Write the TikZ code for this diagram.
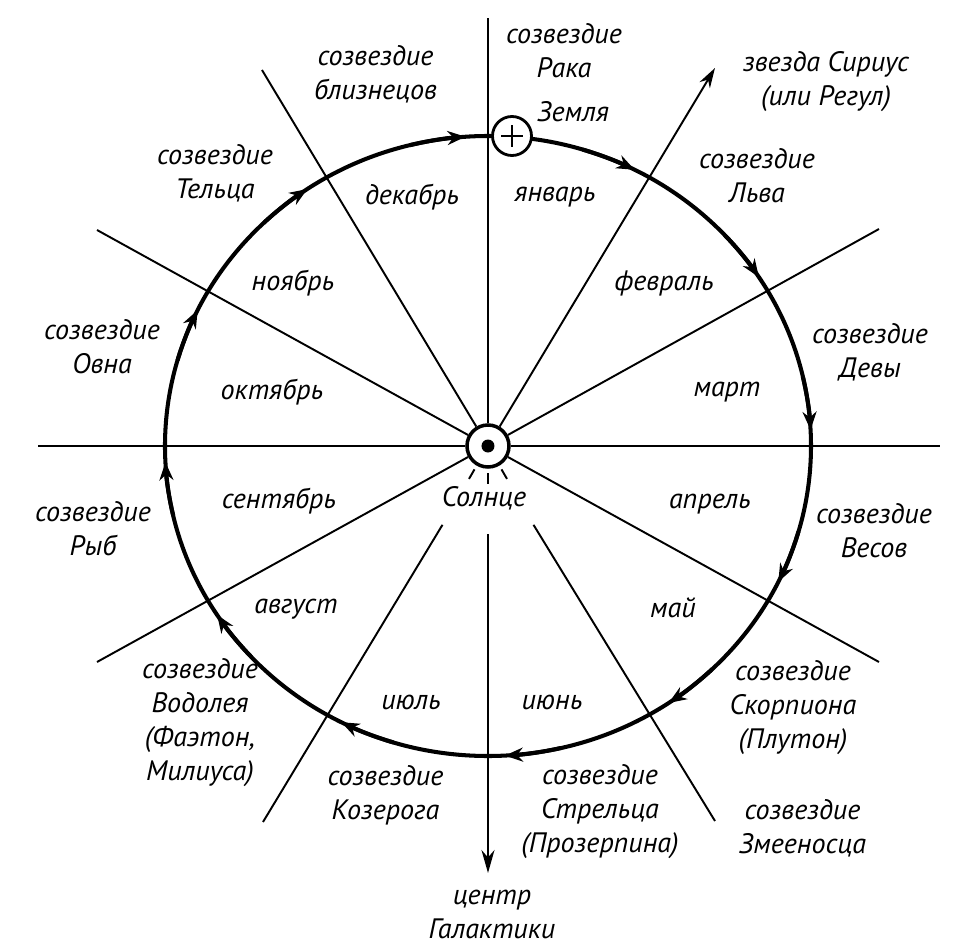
\documentclass[tikz,border=0pt]{standalone}
\usepackage{fontspec}
\setmainfont{PT Sans}
\usetikzlibrary{arrows.meta}

\begin{document}
\begin{tikzpicture}[
  lbl/.style={font=\fontsize{16}{19.4}\selectfont\itshape, align=center, inner sep=0pt},
  ray/.style={line width=1.1pt},
  orbit/.style={line width=2.3pt},
  orbitarrow/.style={-{Stealth[length=3.6mm, width=2.8mm]}},
  body/.style={circle, draw, fill=white, inner sep=0pt},
]
\useasboundingbox (-9.76,-10.04) rectangle (9.72,8.92);

% sun in the middle
\node[body, minimum size=0.84cm, line width=2pt] (sun) at (0,0) {};
\fill (sun.center) circle (0.13);
\foreach \a in {240,270,300}
  \draw[ray] (\a:0.54) -- (\a:0.76);

% ends of the rays
\coordinate (e0)   at (9.04, 0);
\coordinate (e30)  at (7.82, 4.34);
\coordinate (e60)  at (4.54, 7.56);
\coordinate (e90)  at (0, 8.56);
\coordinate (e120) at (-4.52, 7.52);
\coordinate (e150) at (-7.82, 4.32);
\coordinate (e180) at (-9.0, 0);
\coordinate (e210) at (-7.82, -4.32);
\coordinate (e240) at (-4.5, -7.52);
\coordinate (e270) at (0, -8.54);
\coordinate (e300) at (4.54, -7.5);
\coordinate (e330) at (7.82, -4.32);
\coordinate (s240) at (240:1.82);
\coordinate (s270) at (0, -1.76);
\coordinate (s300) at (300:1.82);

\foreach \e in {0,30,90,120,150,180,210,330}
  \draw[ray] (sun) -- (e\e);
\draw[ray] (s240) -- (e240);
\draw[ray] (s300) -- (e300);
\draw[ray, -{Stealth[length=4mm, width=2.4mm]}] (sun) -- (e60);
\draw[ray, -{Stealth[length=4.6mm, width=2.6mm]}] (s270) -- (e270);

% orbit of the Earth, clockwise
\draw[orbit] (sun.center) ellipse [x radius=6.46, y radius=6.2];
\foreach \a [evaluate=\a as \b using \a+10] in {94,63,33,3,-26,-56,-87,-117,-147,-177,154,124}
  \draw[orbit, orbitarrow] ({6.46*cos(\b)}, {6.2*sin(\b)})
    arc [start angle=\b, end angle=\a, x radius=6.46, y radius=6.2];

\node[body, minimum size=0.78cm, line width=1.6pt] (earth) at (0.48, 6.2) {};
\draw[line width=1.4pt, shorten <=0.2cm, shorten >=0.2cm] (earth.west) -- (earth.east);
\draw[line width=1.4pt, shorten <=0.2cm, shorten >=0.2cm] (earth.north) -- (earth.south);

% constellations
\node[lbl] (rak)      at (1.52, 7.9)   {созвездие\\Рака};
\node[lbl] (zemlya)   at (1.70, 6.68)  {Земля};
\node[lbl] (sirius)   at (6.76, 7.29)  {звезда Сириус\\(или Регул)};
\node[lbl] (lev)      at (5.38, 5.4)   {созвездие\\Льва};
\node[lbl] (deva)     at (7.64, 1.87)  {созвездие\\Девы};
\node[lbl] (vesy)     at (7.72, -1.69) {созвездие\\Весов};
\node[lbl] (skorpion) at (6.1, -5.23)  {созвездие\\Скорпиона\\(Плутон)};
\node[lbl] (zmee)     at (6.29, -7.64) {созвездие\\Змееносца};
\node[lbl] (strelec)  at (2.24, -7.31) {созвездие\\Стрельца\\(Прозерпина)};
\node[lbl] (centr)    at (0.08, -9.37) {центр\\Галактики};
\node[lbl] (kozerog)  at (-2.05, -6.99) {созвездие\\Козерога};
\node[lbl] (vodolej)  at (-5.76, -5.53) {созвездие\\Водолея\\(Фаэтон,\\Милиуса)};
\node[lbl] (ryby)     at (-7.9, -1.66) {созвездие\\Рыб};
\node[lbl] (oven)     at (-7.72, 1.98) {созвездие\\Овна};
\node[lbl] (telec)    at (-5.46, 5.45) {созвездие\\Тельца};
\node[lbl] (bliznec)  at (-2.25, 7.44) {созвездие\\близнецов};
\node[lbl] (solnce)   at (-0.08, -1.04) {Солнце};

% months
\node[lbl] (jan) at (1.34, 4.98)   {январь};
\node[lbl] (feb) at (3.52, 3.26)   {февраль};
\node[lbl] (mar) at (4.78, 1.08)   {март};
\node[lbl] (apr) at (4.44, -1.16)  {апрель};
\node[lbl] (may) at (3.7, -3.24)   {май};
\node[lbl] (jun) at (1.28, -5.12)  {июнь};
\node[lbl] (jul) at (-1.54, -5.12) {июль};
\node[lbl] (aug) at (-3.84, -3.26) {август};
\node[lbl] (sep) at (-4.18, -1.1)  {сентябрь};
\node[lbl] (oct) at (-4.32, 1.08)  {октябрь};
\node[lbl] (nov) at (-3.9, 3.26)   {ноябрь};
\node[lbl] (dec) at (-1.52, 4.98)  {декабрь};
\end{tikzpicture}
\end{document}
